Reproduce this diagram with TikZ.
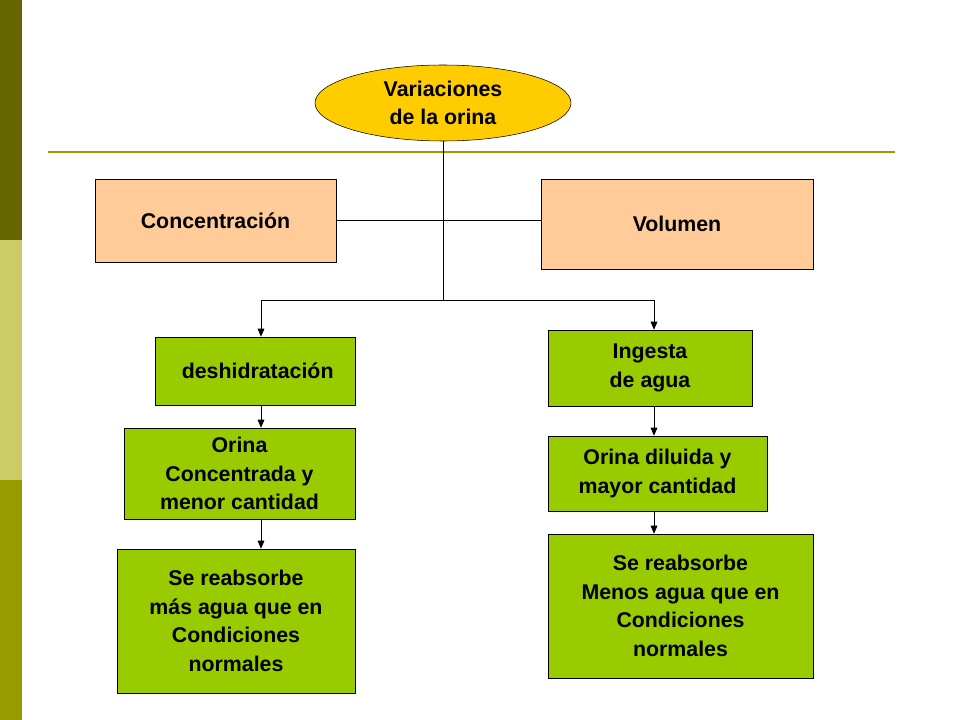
\documentclass[tikz,border=0pt]{standalone}
\usepackage{fontspec}
\setmainfont{Liberation Sans}
\usetikzlibrary{shapes.geometric,arrows.meta}
\definecolor{barA}{HTML}{666600}
\definecolor{barB}{HTML}{CCCC66}
\definecolor{barC}{HTML}{999900}
\definecolor{peach}{HTML}{FFCC99}
\definecolor{grn}{HTML}{99CC00}
\definecolor{gold}{HTML}{FFCC00}
\tikzset{
 lbl/.style={font=\fontsize{16}{21.5}\selectfont\bfseries, align=center, inner sep=0pt, text=black},
 pbox/.style={draw=black, fill=peach, lbl},
 gbox/.style={draw=black, fill=grn, lbl},
 con/.style={draw=black, line width=0.6pt},
 arr/.style={con, -{Triangle[length=6pt,width=5pt]}}
}
\begin{document}
\begin{tikzpicture}[x=0.75pt,y=-0.75pt]
\useasboundingbox (0,0) rectangle (960,720);
\fill[white] (0,0) rectangle (960,720);
\fill[barA] (0,0) rectangle (22,240);
\fill[barB] (0,240) rectangle (22,480);
\fill[barC] (0,480) rectangle (22,720);
\draw[barC, line width=1.2pt] (48,152) -- (895,152);
\node[ellipse, draw=black, fill=gold, lbl, minimum width=192pt, minimum height=57pt] (var) at (443,103) {Variaciones\\ de la orina};
\node[pbox, minimum width=180.75pt, minimum height=62.25pt] (conc) at (215.5,220.5) {Concentración};
\node[pbox, minimum width=204pt, minimum height=67.5pt] (vol) at (677,224) {Volumen};
\node[gbox, minimum width=150pt, minimum height=51pt] (desh) at (255,371) {\hspace*{4pt}deshidratación};
\node[gbox, minimum width=153pt, minimum height=57pt] (ing) at (650,368) {Ingesta\\ de agua};
\node[gbox, minimum width=173.25pt, minimum height=68.25pt] (oc) at (239.5,473.5) {Orina\\Concentrada y\\menor cantidad};
\node[gbox, minimum width=164.25pt, minimum height=56.25pt] (od) at (657.5,473.5) {Orina diluida y\\ mayor cantidad};
\node[gbox, minimum width=178.5pt, minimum height=108pt] (sm) at (236,621) {Se reabsorbe\\más agua que en\\Condiciones\\normales};
\node[gbox, minimum width=198.75pt, minimum height=108pt] (sl) at (680.5,606) {Se reabsorbe\\Menos agua que en\\Condiciones\\normales};
\coordinate (j) at (443,300);
\coordinate (jl) at (261,300);
\coordinate (jr) at (654,300);
\draw[con] (var.south) -- (j);
\draw[con] (conc.east) -- (vol.west |- conc.east);
\draw[con] (jl) -- (jr);
\draw[arr] (jl) -- (jl |- desh.north);
\draw[arr] (jr) -- (jr |- ing.north);
\draw[arr] (jl |- desh.south) -- (jl |- oc.north);
\draw[arr] (jl |- oc.south) -- (jl |- sm.north);
\draw[arr] (jr |- ing.south) -- (jr |- od.north);
\draw[arr] (jr |- od.south) -- (jr |- sl.north);
\end{tikzpicture}
\end{document}
